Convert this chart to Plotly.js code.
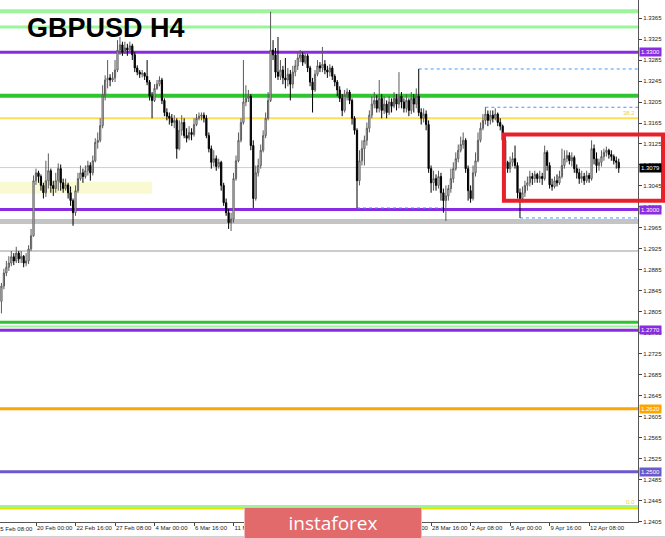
<!DOCTYPE html>
<html>
<head>
<meta charset="utf-8">
<script src="https://cdn.plot.ly/plotly-3.0.1.min.js"></script>
<style>
html,body{margin:0;padding:0;background:#ffffff;}
#chart{width:665px;height:538px;}
</style>
</head>
<body>
<div id="chart"></div>
<script>
// ---- DATA (GBPUSD H4, bar index 0 = 15 Feb 08:00) ----
const firstBar = 2;
const open = [
1.2825,1.2854,1.2879,1.2890,1.2898,1.2910,1.2902,1.2917,1.2906,1.2911,
1.2898,1.2902,1.2925,1.2950,1.3055,1.3070,1.3063,1.3046,1.3032,1.3055,
1.3074,1.3046,1.3040,1.3055,1.3078,1.3051,1.3040,1.3047,1.3032,1.3017,
1.2994,1.3036,1.3059,1.3070,1.3063,1.3074,1.3084,1.3070,1.3093,1.3128,
1.3132,1.3160,1.3218,1.3247,1.3251,1.3247,1.3251,1.3266,1.3304,1.3314,
1.3300,1.3308,1.3304,1.3312,1.3295,1.3270,1.3262,1.3258,1.3260,1.3254,
1.3243,1.3216,1.3208,1.3231,1.3239,1.3247,1.3208,1.3185,1.3178,1.3174,
1.3166,1.3170,1.3116,1.3151,1.3166,1.3141,1.3136,1.3147,1.3143,1.3162,
1.3174,1.3178,1.3180,1.3174,1.3141,1.3116,1.3090,1.3097,1.3082,1.3090,
1.3046,1.3013,1.2994,1.2975,1.2982,1.3059,1.3093,1.3132,1.3166,1.3205,
1.3212,1.3216,1.3122,1.3021,1.3070,1.3084,1.3113,1.3141,1.3174,1.3208,
1.3304,1.3295,1.3262,1.3254,1.3266,1.3251,1.3247,1.3258,1.3239,1.3262,
1.3274,1.3289,1.3295,1.3281,1.3293,1.3270,1.3243,1.3228,1.3258,1.3274,
1.3270,1.3277,1.3266,1.3262,1.3270,1.3254,1.3243,1.3228,1.3212,1.3189,
1.3218,1.3224,1.3208,1.3174,1.3151,1.3055,1.3093,1.3116,1.3132,1.3155,
1.3180,1.3201,1.3208,1.3193,1.3212,1.3189,1.3201,1.3185,1.3205,1.3197,
1.3212,1.3201,1.3216,1.3205,1.3193,1.3208,1.3189,1.3212,1.3201,1.3216,
1.3185,1.3174,1.3182,1.3162,1.3078,1.3051,1.3059,1.3046,1.3063,1.3032,
1.3017,1.3026,1.3040,1.3059,1.3078,1.3097,1.3113,1.3124,1.3132,1.3078,
1.3036,1.3021,1.3070,1.3093,1.3132,1.3155,1.3170,1.3182,1.3170,1.3180,
1.3174,1.3182,1.3166,1.3159,1.3132,1.3090,1.3078,1.3090,1.3097,1.3084,
1.3032,1.3021,1.3032,1.3046,1.3051,1.3063,1.3059,1.3067,1.3059,1.3063,
1.3059,1.3109,1.3084,1.3047,1.3044,1.3055,1.3051,1.3063,1.3084,1.3097,
1.3103,1.3093,1.3099,1.3078,1.3070,1.3059,1.3063,1.3055,1.3065,1.3059,
1.3116,1.3097,1.3084,1.3090,1.3101,1.3109,1.3113,1.3105,1.3101,1.3093,
1.3090];
const high = [
1.2860,1.2887,1.2902,1.2911,1.2921,1.2917,1.2929,1.2921,1.2921,1.2913,
1.2917,1.2932,1.2963,1.3065,1.3078,1.3074,1.3067,1.3051,1.3093,1.3107,
1.3078,1.3055,1.3070,1.3088,1.3086,1.3059,1.3059,1.3051,1.3044,1.3021,
1.3046,1.3070,1.3084,1.3078,1.3084,1.3093,1.3090,1.3103,1.3136,1.3147,
1.3174,1.3237,1.3256,1.3285,1.3258,1.3262,1.3285,1.3323,1.3329,1.3320,
1.3320,1.3316,1.3320,1.3316,1.3300,1.3275,1.3266,1.3266,1.3262,1.3285,
1.3247,1.3224,1.3239,1.3247,1.3254,1.3251,1.3212,1.3193,1.3185,1.3182,
1.3180,1.3174,1.3170,1.3180,1.3174,1.3155,1.3159,1.3155,1.3174,1.3182,
1.3185,1.3185,1.3185,1.3180,1.3147,1.3122,1.3113,1.3103,1.3097,1.3093,
1.3051,1.3021,1.3001,1.2994,1.3070,1.3103,1.3147,1.3174,1.3285,1.3237,
1.3228,1.3220,1.3132,1.3084,1.3097,1.3124,1.3151,1.3185,1.3224,1.3377,
1.3323,1.3308,1.3329,1.3285,1.3274,1.3289,1.3270,1.3266,1.3274,1.3285,
1.3300,1.3304,1.3300,1.3300,1.3297,1.3274,1.3251,1.3266,1.3285,1.3281,
1.3310,1.3285,1.3274,1.3277,1.3274,1.3258,1.3247,1.3235,1.3220,1.3228,
1.3231,1.3228,1.3212,1.3178,1.3155,1.3113,1.3132,1.3141,1.3166,1.3189,
1.3216,1.3224,1.3218,1.3247,1.3220,1.3216,1.3208,1.3216,1.3212,1.3224,
1.3220,1.3262,1.3224,1.3212,1.3220,1.3212,1.3224,1.3220,1.3231,1.3268,
1.3193,1.3193,1.3189,1.3170,1.3084,1.3074,1.3067,1.3074,1.3070,1.3040,
1.3046,1.3047,1.3078,1.3090,1.3109,1.3124,1.3139,1.3147,1.3136,1.3084,
1.3046,1.3084,1.3109,1.3147,1.3166,1.3182,1.3195,1.3189,1.3189,1.3189,
1.3193,1.3185,1.3174,1.3162,1.3136,1.3093,1.3101,1.3109,1.3122,1.3090,
1.3040,1.3044,1.3055,1.3063,1.3074,1.3070,1.3074,1.3070,1.3074,1.3070,
1.3122,1.3113,1.3090,1.3059,1.3063,1.3067,1.3074,1.3116,1.3113,1.3113,
1.3109,1.3109,1.3103,1.3086,1.3078,1.3074,1.3070,1.3074,1.3070,1.3132,
1.3124,1.3109,1.3097,1.3113,1.3116,1.3120,1.3116,1.3113,1.3105,1.3101,
1.3097];
const low = [
1.2802,1.2848,1.2873,1.2883,1.2892,1.2894,1.2898,1.2898,1.2898,1.2890,
1.2892,1.2896,1.2921,1.2948,1.3047,1.3051,1.3036,1.3021,1.3024,1.3040,
1.3032,1.3026,1.3032,1.3036,1.3036,1.3032,1.3036,1.3021,1.3007,1.2969,
1.2988,1.3032,1.3055,1.3051,1.3059,1.3065,1.3055,1.3065,1.3090,1.3116,
1.3128,1.3155,1.3208,1.3231,1.3235,1.3243,1.3243,1.3262,1.3295,1.3293,
1.3297,1.3293,1.3300,1.3285,1.3262,1.3256,1.3251,1.3252,1.3247,1.3237,
1.3208,1.3174,1.3205,1.3228,1.3235,1.3201,1.3178,1.3170,1.3162,1.3159,
1.3155,1.3097,1.3113,1.3141,1.3136,1.3128,1.3132,1.3132,1.3139,1.3159,
1.3170,1.3170,1.3166,1.3136,1.3109,1.3078,1.3082,1.3074,1.3078,1.3036,
1.3007,1.2988,1.2963,1.2959,1.2975,1.3055,1.3090,1.3128,1.3162,1.3197,
1.3205,1.3113,1.3003,1.3017,1.3063,1.3078,1.3109,1.3136,1.3170,1.3205,
1.3285,1.3251,1.3247,1.3247,1.3239,1.3231,1.3235,1.3208,1.3231,1.3254,
1.3266,1.3281,1.3274,1.3277,1.3262,1.3235,1.3185,1.3224,1.3254,1.3262,
1.3262,1.3258,1.3251,1.3254,1.3247,1.3235,1.3216,1.3205,1.3178,1.3185,
1.3208,1.3201,1.3162,1.3143,1.3003,1.3046,1.3084,1.3084,1.3122,1.3147,
1.3174,1.3193,1.3185,1.3185,1.3174,1.3182,1.3174,1.3180,1.3185,1.3193,
1.3189,1.3193,1.3193,1.3185,1.3185,1.3178,1.3182,1.3185,1.3193,1.3178,
1.3162,1.3166,1.3151,1.3070,1.3032,1.3036,1.3036,1.3040,1.3017,1.2994,
1.2978,1.3017,1.3032,1.3051,1.3074,1.3090,1.3109,1.3116,1.3070,1.3017,
1.3013,1.3017,1.3063,1.3090,1.3128,1.3151,1.3162,1.3159,1.3162,1.3166,
1.3170,1.3159,1.3151,1.3122,1.3078,1.3070,1.3070,1.3082,1.3078,1.3021,
1.2984,1.3013,1.3024,1.3036,1.3044,1.3047,1.3051,1.3051,1.3051,1.3047,
1.3055,1.3074,1.3040,1.3036,1.3040,1.3044,1.3047,1.3059,1.3078,1.3090,
1.3086,1.3082,1.3070,1.3059,1.3049,1.3051,1.3047,1.3051,1.3051,1.3055,
1.3086,1.3070,1.3074,1.3082,1.3093,1.3101,1.3097,1.3093,1.3086,1.3078,
1.3070];
const close = [
1.2854,1.2879,1.2890,1.2898,1.2910,1.2902,1.2917,1.2906,1.2911,1.2898,
1.2902,1.2925,1.2950,1.3055,1.3070,1.3063,1.3046,1.3032,1.3055,1.3074,
1.3046,1.3040,1.3055,1.3078,1.3051,1.3040,1.3047,1.3032,1.3017,1.2994,
1.3036,1.3059,1.3070,1.3063,1.3074,1.3084,1.3070,1.3093,1.3128,1.3132,
1.3160,1.3218,1.3247,1.3251,1.3247,1.3251,1.3266,1.3304,1.3314,1.3300,
1.3308,1.3304,1.3312,1.3295,1.3270,1.3262,1.3258,1.3260,1.3254,1.3243,
1.3216,1.3208,1.3231,1.3239,1.3247,1.3208,1.3185,1.3178,1.3174,1.3166,
1.3170,1.3116,1.3151,1.3166,1.3141,1.3136,1.3147,1.3143,1.3162,1.3174,
1.3178,1.3180,1.3174,1.3141,1.3116,1.3090,1.3097,1.3082,1.3090,1.3046,
1.3013,1.2994,1.2975,1.2982,1.3059,1.3093,1.3132,1.3166,1.3205,1.3212,
1.3216,1.3122,1.3021,1.3070,1.3084,1.3113,1.3141,1.3174,1.3208,1.3304,
1.3295,1.3262,1.3254,1.3266,1.3251,1.3247,1.3258,1.3239,1.3262,1.3274,
1.3289,1.3295,1.3281,1.3293,1.3270,1.3243,1.3228,1.3258,1.3274,1.3270,
1.3277,1.3266,1.3262,1.3270,1.3254,1.3243,1.3228,1.3212,1.3189,1.3218,
1.3224,1.3208,1.3174,1.3151,1.3055,1.3093,1.3116,1.3132,1.3155,1.3180,
1.3201,1.3208,1.3193,1.3212,1.3189,1.3201,1.3185,1.3205,1.3197,1.3212,
1.3201,1.3216,1.3205,1.3193,1.3208,1.3189,1.3212,1.3201,1.3216,1.3185,
1.3174,1.3182,1.3162,1.3078,1.3051,1.3059,1.3046,1.3063,1.3032,1.3017,
1.3026,1.3040,1.3059,1.3078,1.3097,1.3113,1.3124,1.3132,1.3078,1.3036,
1.3021,1.3070,1.3093,1.3132,1.3155,1.3170,1.3182,1.3170,1.3180,1.3174,
1.3182,1.3166,1.3159,1.3132,1.3090,1.3078,1.3090,1.3097,1.3084,1.3032,
1.3021,1.3032,1.3046,1.3051,1.3063,1.3059,1.3067,1.3059,1.3063,1.3059,
1.3109,1.3084,1.3047,1.3044,1.3055,1.3051,1.3063,1.3084,1.3097,1.3103,
1.3093,1.3099,1.3078,1.3070,1.3059,1.3063,1.3055,1.3065,1.3059,1.3116,
1.3097,1.3084,1.3090,1.3101,1.3109,1.3113,1.3105,1.3101,1.3093,1.3090,
1.3079];

const tickBars = [0,16,32,48,64,80,96,112,128,144,160,176,192,208,224,240];
const tickLabels = ['15 Feb 08:00','20 Feb 00:00','22 Feb 16:00','27 Feb 08:00','4 Mar 00:00','6 Mar 16:00',
  '11 Mar 08:00','14 Mar 00:00','18 Mar 16:00','21 Mar 08:00','26 Mar 00:00','28 Mar 16:00',
  '2 Apr 08:00','5 Apr 00:00','9 Apr 16:00','12 Apr 08:00'];

// horizontal levels
const levelPrices = [1.3378, 1.3348, 1.3300, 1.3217, 1.3174, 1.3080, 1.3000, 1.2977, 1.2921,
                     1.2785, 1.2777, 1.2770, 1.2620, 1.2500, 1.2434, 1.2430];
// price tags on the right scale
const tagPrices = [1.3300, 1.3079, 1.3000, 1.2770, 1.2620, 1.2500];
// dotted swing lines
const dotPrices = [1.3268, 1.3195, 1.3003, 1.2984];
const dotFromBar = [171, 198, 146, 212];
const dotToBar = [null, null, 182, null];
// fibo labels
const fiboLabels = ['38.2', '0.0'];
const fiboPrices = [1.3174, 1.2432];
// zones
const zonePrices = [1.3030, 1.3053];
const zoneBars = [1.4, 63];
const boxPrices = [1.3017, 1.3143];
const boxFromBar = 205.5;

// ---- STYLES ----
const levelStyles = [
  {c:'#9cf59a', w:4}, {c:'#9cf59a', w:3}, {c:'#8a2be2', w:3}, {c:'#2ec52e', w:4},
  {c:'#ffdd55', w:2}, {c:'#cfcfcf', w:1}, {c:'#8a2be2', w:3}, {c:'#c4c4c4', w:5},
  {c:'#cccccc', w:2}, {c:'#2ec52e', w:3}, {c:'#9cf59a', w:2}, {c:'#8a2be2', w:3},
  {c:'#ffa500', w:3}, {c:'#6a5acd', w:3}, {c:'#9cf59a', w:3}, {c:'#e4e400', w:2}
];
const tagStyles = ['#8a2be2', '#000000', '#8a2be2', '#8a2be2', '#ffa500', '#6a5acd'];
const XMIN = 1.42, XMAX = 259.8;
const toPaper = b => (b - XMIN) / (XMAX - XMIN);

const bars = close.map((c, i) => firstBar + i);

const trace = {
  type: 'candlestick',
  x: bars, open: open, high: high, low: low, close: close,
  increasing: {line: {color: '#5a5a5a', width: 1}, fillcolor: '#ffffff'},
  decreasing: {line: {color: '#000000', width: 1}, fillcolor: '#000000'},
  whiskerwidth: 0,
  hoverinfo: 'skip',
  showlegend: false
};

const shapes = [];
shapes.push({type:'rect', layer:'below', xref:'x', yref:'y', x0:zoneBars[0], x1:zoneBars[1],
  y0:zonePrices[0], y1:zonePrices[1], fillcolor:'#fafad2', line:{width:0}});
levelPrices.forEach((p, i) => {
  shapes.push({type:'line', layer:'below', xref:'paper', yref:'y', x0:0, x1:1, y0:p, y1:p,
    line:{color:levelStyles[i].c, width:levelStyles[i].w}});
});
dotPrices.forEach((p, i) => {
  shapes.push({type:'line', layer:'below', xref:'x', yref:'y', x0:dotFromBar[i],
    x1:(dotToBar[i] === null ? XMAX : dotToBar[i]), y0:p, y1:p,
    line:{color:'#3d9bff', width:1, dash:'dot'}});
});
// red box (runs over the price scale)
shapes.push({type:'rect', layer:'above', xref:'paper', yref:'y', x0:toPaper(boxFromBar), x1:663/638,
  y0:boxPrices[0], y1:boxPrices[1], line:{color:'#e8202a', width:4}, fillcolor:'rgba(0,0,0,0)'});
// bottom border
shapes.push({type:'line', xref:'paper', yref:'paper', x0:0, x1:1.05, y0:-0.0287, y1:-0.0287,
  line:{color:'#a8a8a8', width:1}});

const annotations = [];
annotations.push({xref:'paper', yref:'paper', x:0, y:1, xanchor:'left', yanchor:'middle',
  xshift:25, yshift:-28, showarrow:false, text:'<b>GBPUSD H4</b>',
  font:{family:'Liberation Sans', size:27, color:'#000000'}});
tagPrices.forEach((p, i) => {
  annotations.push({xref:'paper', yref:'y', x:1, y:p, xanchor:'left', yanchor:'middle', xshift:1,
    showarrow:false, text:p.toFixed(4), bgcolor:tagStyles[i], borderpad:1,
    font:{family:'Liberation Sans', size:6, color:'#ffffff'}});
});
fiboLabels.forEach((t, i) => {
  annotations.push({xref:'paper', yref:'y', x:1, y:fiboPrices[i], xanchor:'right', yanchor:'bottom',
    xshift:-1, showarrow:false, text:t, font:{family:'Liberation Sans', size:6, color:'#f0d040'}});
});
annotations.push({xref:'paper', yref:'paper', x:0, y:0, xanchor:'left', yanchor:'top', xshift:-5, yshift:-2,
  showarrow:false, text:tickLabels[0], font:{family:'Liberation Sans', size:6, color:'#222222'}});
annotations.push({xref:'paper', yref:'paper', x:333/638, y:-0.5/522, xanchor:'center', yanchor:'middle',
  showarrow:false, text:'instaforex', width:176, height:30, borderpad:0, borderwidth:1,
  bgcolor:'#e26a6a', bordercolor:'#f3b8b8',
  font:{family:'Open Sans', size:19, color:'#ffffff'}});

const layout = {
  width: 665, height: 538,
  margin: {l:0, r:27, t:0, b:16, pad:0},
  paper_bgcolor: '#ffffff', plot_bgcolor: '#ffffff',
  showlegend: false,
  xaxis: {range:[XMIN, XMAX], tickmode:'array', tickvals:tickBars, ticktext:tickLabels,
    tickangle:0, ticks:'outside', ticklen:3, tickcolor:'#444444', ticklabelposition:'outside right',
    showgrid:false, zeroline:false, showline:true, linecolor:'#555555', linewidth:1,
    tickfont:{family:'Liberation Sans', size:6, color:'#222222'},
    rangeslider:{visible:false}, fixedrange:true},
  yaxis: {range:[1.24043, 1.33995], side:'right', tickmode:'linear', tick0:1.2405, dtick:0.004,
    tickformat:'.4f', ticks:'outside', ticklen:3, tickcolor:'#444444',
    showgrid:false, zeroline:false, showline:true, linecolor:'#555555', linewidth:1,
    tickfont:{family:'Liberation Sans', size:6, color:'#222222'}, fixedrange:true},
  shapes: shapes,
  annotations: annotations
};

Plotly.newPlot('chart', [trace], layout, {staticPlot:true, displayModeBar:false});
</script>
</body>
</html>
